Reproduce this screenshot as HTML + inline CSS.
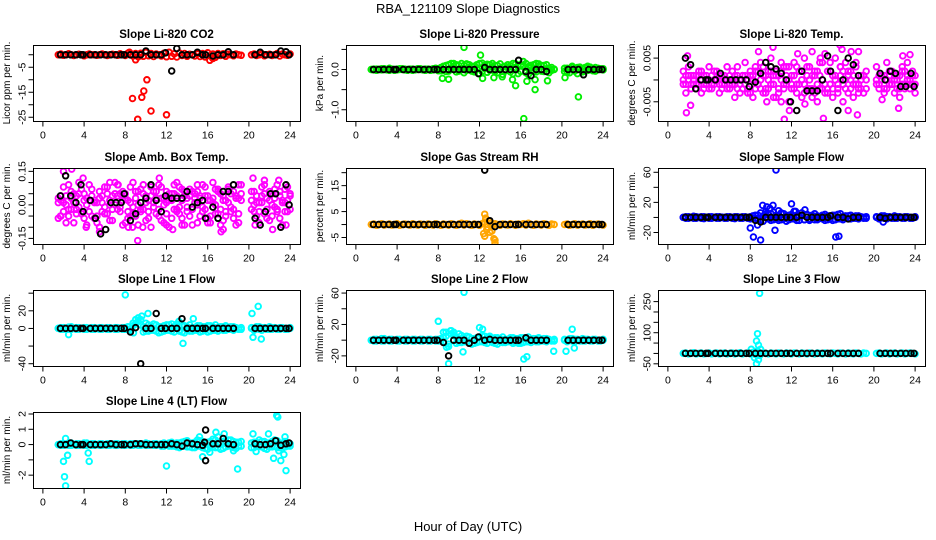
<!DOCTYPE html>
<html><head><meta charset="utf-8"><title>RBA_121109 Slope Diagnostics</title>
<style>
html,body{margin:0;padding:0;background:#fff;}
svg{display:block;font-family:"Liberation Sans",Arial,sans-serif;}
</style></head>
<body>
<svg id="chart" width="936" height="540" viewBox="0 0 936 540" xmlns="http://www.w3.org/2000/svg">
<rect width="936" height="540" fill="#fff"/>
<text x="468" y="13" text-anchor="middle" font-size="13">RBA_121109  Slope Diagnostics</text>
<text x="468" y="531" text-anchor="middle" font-size="13">Hour of Day (UTC)</text>
</svg>
<script>
// ---------- shared time categories ----------
const T = [1.5,1.75,2,2.25,2.5,2.75,3,3.25,3.5,3.75,4,4.25,4.5,4.75,5,5.25,5.5,5.75,6,6.25,6.5,6.75,7,7.25,7.5,7.75,8,8.25,8.5,8.75,9,9.25,9.5,9.75,10,10.25,10.5,10.75,11,11.25,11.5,11.75,12,12.25,12.5,12.75,13,13.25,13.5,13.75,14,14.25,14.5,14.75,15,15.25,15.5,15.75,16,16.25,16.5,16.75,17,17.25,17.5,17.75,18,18.25,18.5,18.75,19,19.25,20.25,20.5,20.75,21,21.25,21.5,21.75,22,22.25,22.5,22.75,23,23.25,23.5,23.75,24];
const TB = [1.7,2.2,2.7,3.2,3.7,3.9,4.6,5.1,5.6,6.1,6.6,7.1,7.6,7.9,8.5,9.0,9.5,10.0,10.5,11.0,11.5,11.9,12.5,13.0,13.5,14.0,14.5,15.0,15.5,15.8,16.5,17.0,17.5,18.0,18.5,20.6,21.1,21.6,22.1,22.6,23.1,23.6,23.9];
const xTicks = [0,4,8,12,16,20,24];

// ---------- Panel 1: Li-820 CO2 ----------
const co2Band = [0,0.3,-0.2,0,0.4,0,-0.3,0, 0.2,0,-0.4,0,0.3,0,0,-0.2, 0,0.3,0,-0.3,0,0.2,0,-0.2, 0.4,0,-0.3,0.6,0,-0.5,0.5,-0.8, 0.6,-0.6,1,-0.4,0.5,-0.7,0.3,0, -0.5,0.6,-0.8,1,-0.6,0.4,-0.9,0.7, -0.3,0.5,-0.6,0.2,0,-0.5,0.3,-0.7, 0.5,-0.9,0.8,-0.4,0.3,-1,0.5,-0.3, 0.4,-0.6,0.2,0,-0.4,0.3,0,-0.2, 0,0.3,-0.3,0,0.4,-0.4,0,0.2, -0.3,0,0.5,-0.5,0.3,0,-0.2,0.3];
const co2OutT = [8.7,9.2,9.6,9.8,10.1,10.5,12.0,9.0,16.2,16.5,8.4,10.0];
const co2OutV = [-17.5,-25.8,-17,-14.5,-10,-22.5,-24,-2,-2.2,-1.5,1,1];
const co2Black = [0,0,0,0,0,0,0,0,0,0,0,0,0,0,0,0,0,1.5,0,0,0,0.8,-6.5,2.5,0,0,0,1,0,0,-0.5,0,0,1.2,0,0,1,0,0,0,1.5,1.2,0];

// ---------- Panel 2: Li-820 Pressure ----------
const presBandA = [0,0.01,-0.02,0,0.02,0,-0.01,0.03, 0,-0.02,0.01,0,0.02,-0.01,0,0.01, -0.02,0,0.02,0,-0.01,0.01,0,-0.02, 0.02,0,-0.03,0.05,0,-0.05,0.12,0.02, 0.15,-0.06,0.1,0.02,-0.08,0.14,0.05,-0.04, 0.08,0.12,-0.1,0.16,0.03,-0.07,0.12,0.06, -0.05,0.1,0.02,-0.12,0.08,0.04,-0.06,0.15, 0.05,-0.1,0.12,0.2,-0.08,0.06,0.1,-0.05, 0.15,0.08,-0.04,0.1,0.02,-0.08,0.05,0, -0.05,0.03,-0.08,0.05,0,-0.1,0.06,0.02, -0.04,0.08,0,-0.03,0.05,0,0.02,-0.01];
const presBandB = [0,-0.01,0.01,0,-0.01,0.02,0,-0.02, 0.01,0,-0.01,0.02,0,0.01,-0.02,0, 0.01,-0.01,0,0.02,0,-0.02,0.01,0, -0.01,0.03,0.02,-0.03,0.08,0.1,-0.04,0.15, 0.08,0.12,-0.04,0.15,0.1,-0.02,0.12,0.08, -0.06,0.04,0.15,-0.05,0.1,0.13,-0.02,0.15, 0.1,-0.08,0.14,0.06,-0.03,0.12,0.09,-0.1, 0.14,0.08,-0.05,0.1,0.15,-0.12,0.04,0.12, -0.06,0.14,0.1,-0.05,0.12,0.03,-0.02,0.01, 0.03,-0.06,0.02,0.08,-0.04,0.05,0.03,-0.06, 0.05,-0.02,0.06,0.02,-0.04,0.03,0,0.02];
const presOutT = [10.5,12.1,8.4,9.0,12.3,13.4,14.2,15.2,15.5,16.3,16.6,17.4,17.4,18.6,20.3,21.6,16.9];
const presOutV = [0.55,0.36,-0.22,-0.24,-0.22,-0.2,-0.18,-0.25,-0.4,-1.22,-0.29,-0.5,-0.25,-0.28,-0.2,-0.68,0.1];
const presBlack = [0,0,0,0,0,0,0,0,0,0,0,0,0,0,0,0,0,0,0,0,0,-0.1,0.05,0,0,0,0,0,0,0.23,-0.05,-0.15,0,0,-0.05,0,0,0,-0.13,0,0,0,0];

// ---------- Panel 3: Li-820 Temp (units of 0.001) ----------
const tempBandA = [0,-1,1,-2,0,1,-1,0, -2,1,0,-1,2,0,-1,-2, 1,0,-1,0,1,-2,0,1, -1,0,-3,1,2,-1,0,1, -2,0,2,-1,1,-2,0,3, -1,0,-2,1,-1,2,0,-3, 1,0,-2,2,-1,1,0,-3, 2,-1,1,0,-2,3,-1,0, 2,-2,1,-1,-3,0,1,-2, 0,-1,1,-2,0,2,-1,0, -2,1,-1,2,0,-2,1,-1];
const tempBandB = [2,-3,3,-1,1,-2,2,-3, 1,-1,3,-2,0,2,-3,1, -1,3,-2,2,-1,3,-3,1, 4,-2,2,-4,3,-1,4,-3, 1,-2,5,-4,2,-3,4,-1, 3,-5,1,4,-3,2,-4,5, -2,3,-4,1,-5,4,-2,6, -3,2,-4,5,-1,3,-5,4, -3,2,-4,3,-2,1,-3,2, 3,-2,1,-3,4,-1,2,-3, 1,-4,3,-2,4,-1,2,-3];
const tempBandC = [-1,1,0,1,-1,-1,1,2, -1,0,-2,1,-1,0,1,-1, 0,-2,1,-1,0,1,-1,-2, 1,-3,1,0,-2,2,-2,3, -3,2,-1,1,-4,1,2,-2, 1,3,-1,-2,3,-1,2,-1, 3,-2,1,-3,2,-2,4,-1, -2,4,-2,1,-3,1,2,-2, 1,0,-1,4,-1,-2,1,0, -1,1,0,1,-2,1,-1,1, 0,-2,2,-1,1,0,-1,1];
const tempOutT = [1.8,2.2,8.8,10.2,11.3,15.1,16.7,18.4,17.5,11.8,12.6,14.0,17.8,18.5,22.4,23.5,22.8,13.3,9.6,6.5,1.9,16.9,14.8,11.0,20.8];
const tempOutV = [-7.5,-5.8,6.5,7.5,-9,-8.8,8,-8,-7,-7,6,6.5,6.5,6.5,-6.5,5.8,5.5,-5.5,-5,-4,5.5,7,5,-5,-4.5];
const tempBlack = [5,3.5,-2,0,0,0,0,1.5,0,0,0,0,0,-1.5,-0.5,1.5,4,3,2.5,1.5,0,-5,-7,2,-2.5,-2.5,-2.5,0,5.5,2,-7,0,5,3.5,1,1.5,0,2,1.5,-1.5,-1.5,1.5,-1.5];

// ---------- Panel 4: Amb. Box Temp (units of 0.01) ----------
const ambBandA = [3,-5,8,0,-2,6,-8,4, 10,-3,5,-9,2,7,-6,1, -10,4,8,-4,0,-7,5,9, -3,6,-8,2,-5,10,3,-9, 7,-2,4,-6,8,1,-4,9, -7,3,6,-10,2,5,-3,8, -6,4,-1,7,-9,3,6,-5, 9,-2,4,-8,1,7,-4,5, -7,2,8,-3,6,-9,3,5, -2,6,-5,1,8,-4,3,-7, 5,-1,9,-6,2,7,-3,4];
const ambBandB = [-6,4,1,-8,9,-2,5,-4, -1,7,-6,3,9,-5,2,-8, 6,-3,-1,8,-7,4,10,-2, 5,-9,3,-6,8,-1,-5,6, -3,9,-7,2,-10,6,3,-5, 8,-8,1,5,-6,9,-2,-4, 7,-9,3,-5,6,1,-8,4, -3,8,-6,2,10,-4,6,-9, 2,-5,7,-1,-6,4,-8,9, 6,-3,1,-8,4,9,-6,2, -5,7,-3,6,-9,1,8,-2];
const ambBandC = [1,2,-3,4,-5,3,1,-2, 5,-4,2,0,-3,4,1,-5, 3,1,-4,5,2,-2,0,4, -1,2,5,-3,1,-4,6,0, -2,5,1,-3,4,-1,6,-2, 3,0,-4,2,5,-2,4,-1, 2,6,-3,4,-2,5,0,3, -1,4,2,-5,3,0,7,-2, 4,-3,1,5,-2,3,-4,2, 2,0,4,-3,1,5,-2,6, 0,3,-2,4,1,-3,2,5];
const ambOutT = [1.7,2.0,2.8,3.9,6.5,7.3,8.3,8.7,9.2,9.7,11.3,12.0,12.6,13.5,15.0,17.3,17.5,19.0,20.4,20.6,21.5,22.3,22.9,23.6,5.5,4.2,13.0,16.0];
const ambOutV = [-5,15,16,12,10,9,-10,-10,-16,-10,12,-9,-11,-9,9,-12,-11,9,12,-9,11,-11,11,-9,-12,-10,10,-8];
const ambBlack = [4,13,4,1,9,-3,2,-6,-13,-11,1,1,1,5,-7,-4,1,3,9,2,-3,4,3,3,3,6,-1,1,2,-6,-1,-6,6,6,9,-6,-9,-3,5,5,-10,9,0];

// ---------- Panel 5: Gas Stream RH ----------
const rhBand = [0,0.2,-0.3,0,0.3,-0.2,0,0.2, -0.2,0,0.3,-0.3,0,0.2,0,-0.2, 0.3,0,-0.2,0.2,0,-0.3,0.2,0, -0.2,0.3,0,-0.3,0.2,0,-0.2,0.3, 0,-0.3,0.2,0.5,-0.2,0.3,0,-0.3, 0.2,0,-0.3,0.3,1,-1,0.5,-0.5, 0.3,0,-0.3,0.2,0,-0.2,0.3,0, -0.3,0.2,0,0.3,-0.2,0.5,0,-0.3, 0.2,0,-0.2,0.3,0,-0.3,0.2,0, 0,0.2,-0.3,0,0.3,-0.2,0,0.2, -0.2,0,0.3,-0.3,0,0.2,0,-0.2];
const rhOutT = [12.5,12.6,12.7,12.5,12.8,13.0,13.4,13.5,13.5,12.9,13.2,12.4,13.1];
const rhOutV = [4,2.5,-2,-4.5,-1,-3,-5.5,-7,-6,1.5,-2.5,-3.5,0.5];
const rhBlack = [0,0,0,0,0,0,0,0,0,0,0,0,0,0,0,0,0,0,0,0,0,0,21,1.5,-0.8,0,0,0,0,0,0,0,0,0,0,0,0,0,0,0,0,0,0];

// ---------- Panel 6: Sample Flow ----------
const sfBandA = [0,1,-1,0,1.5,-1,0,1, -1.5,0,1,-1,0,1,-1,0.5, 0,-1,1,0,-1.5,1,0,-1, 1,0,-2,2,-1,3,-3,2, 4,-2,5,-3,3,-4,6,-2, 2,-3,4,-2,3,-4,2,-3, 4,-2,3,-3,2,-1,3,-4, 2,-2,3,-3,4,-2,1,-1, 2,-2,1,-1,2,0,-1,1, 0,-2,2,-1,1,0,-1,2, -1,1,0,-1,1,0,-1,0];
const sfBandB = [0,-1,1,0,-1,1,0,-1, 1,0,-1,1,0,-1,1,0, -1,1,0,-1,1,0,-1,1, 0,-1,1,-1,3,-3,6,-5, 8,4,-4,7,-2,9,-3,5, -5,3,-2,8,-4,2,6,-3, 3,-4,2,5,-3,1,-2,4, -3,2,-4,3,-2,5,-3,2, -2,3,-1,2,-2,1,0,-1, 1,-1,0,2,-2,1,0,-1, 1,0,-1,1,0,-1,0,1];
const sfOutT = [10.5,12.0,9.2,9.6,9.9,10.2,12.4,13.3,8.0,8.3,8.7,9.0,10.4,16.3,16.6,11.0,9.5,20.9];
const sfOutV = [63,18,16,14,12,16,8,10,-14,-26,-10,-30,-17,-26,-25,5,5,-6];
const sfBlack = [0,0,0,0,0,0,0,0,0,0,0,0,0,0,-4,-6,0,0,0,0,0,0,0,3,0,0,0,0,0,2,0,0,-2,0,0,0,-1,0,0,0,0,0,0];

// ---------- Panel 7: Line 1 Flow ----------
const l1BandA = [0,1,-1,0,1.5,-1,0,1, -1,0,1,-1,0,1,-1,0, 1,-1,0,1,-1,0,1,-1, 0,1,-1,2,-2,3,5,8, 10,2,-3,4,-2,5,-3,2, -4,3,-2,4,-3,2,5,-3, 3,-5,2,-3,1,-2,3,-4, 2,-2,3,-3,2,-2,1,-1, 2,-2,1,-1,2,0,-1,1, 0,-2,2,-1,1,0,-1,2, -1,1,0,-1,1,0,-1,0];
const l1BandB = [0,-1,1,0,-1,2,0,-1, 1,0,-1,1,0,-1,1,0, -1,1,0,-1,1,0,-1,1, 0,-1,1,-1,-3,6,10,12, 4,-4,6,-3,3,-2,4,-5, 2,-3,4,-2,5,-4,3,-2, -4,3,-2,4,-3,1,-2,3, -3,2,-4,3,-2,4,-3,2, -2,3,-1,2,-2,1,0,-1, 1,-1,0,2,-2,1,0,-1, 1,0,-1,1,0,-1,0,1];
const l1OutT = [8.0,10.2,9.6,13.6,14.6,20.3,20.9,21.2,20.4,2.5,8.8,13.2];
const l1OutV = [38,17,14,-17,11,17,25,-12,-10,-7,-5,8];
const l1Black = [0,0,0,0,0,0,0,0,0,0,0,0,0,0,-4,1,-40,0,0,17,0,0,0,0,11,0,0,0,0,0,0,0,0,0,0,0,0,0,0,0,0,0,0];

// ---------- Panel 8: Line 2 Flow ----------
const l2BandA = [0,1,-1,0,2,-1,0,1, -1,0,1,-1,0,1,-1,0, 1,-1,0,1,-1,0,1,-1, 0,1,-1,2,-2,5,-5,8, 10,4,-3,6,-2,5,-3,2, -4,3,-2,6,-3,2,5,-3, 3,-5,2,-3,1,-2,3,-4, 2,-2,3,-3,2,-2,1,-1, 2,-2,1,-1,2,0,-1,1, 0,-2,2,-1,1,0,-1,2, -1,1,0,-1,1,0,-1,0];
const l2BandB = [0,-1,1,0,-1,2,0,-1, 1,0,-1,1,0,-1,1,0, -1,1,0,-1,1,0,-1,1, 0,-1,1,-1,3,10,-8,12, 6,-4,8,-3,3,-2,4,-5, 2,-3,4,-2,5,-4,3,-2, -4,3,-2,4,-3,1,-2,3, -3,2,-4,3,-2,4,-3,2, -2,3,-1,2,-2,1,0,-1, 1,-1,0,2,-2,1,0,-1, 1,0,-1,1,0,-1,0,1];
const l2OutT = [10.5,8.0,12.0,12.3,9.2,9.5,8.5,8.8,9.0,10.4,16.3,16.6,19.2,20.4,21.2,21.0,15.8];
const l2OutV = [61,24,16,14,12,9,10,-9,-30,-15,-24,-21,-14,-14,-10,14,-4];
const l2Black = [0,0,0,0,0,0,0,0,0,0,0,0,0,0,-3,-20,0,0,0,-4,0,4,0,1,0,0,0,0,0,0,3,0,0,0,0,0,0,0,0,0,0,0,0];

// ---------- Panel 9: Line 3 Flow ----------
const l3Band = [0,2,-2,0,3,-2,0,2, -2,0,2,-2,0,2,-2,0, 2,-2,0,2,-2,0,3,-2, 0,2,-2,5,-5,8,-3,2, 0,-2,2,0,-2,2,0,-2, 2,0,-2,2,0,-2,2,0, -2,2,0,-2,2,0,-2,2, 0,-2,2,0,-2,2,0,-2, 2,0,-2,2,0,-2,2,0, 0,2,-2,0,2,-2,0,2, -2,0,2,-2,0,2,0,-2];
const l3OutT = [8.9,8.7,8.6,8.8,9.0,8.1,8.4,8.6,8.8,8.5,8.9];
const l3OutV = [290,95,60,40,20,20,-20,-50,-30,10,-10];
const l3Black = [0,0,0,0,0,0,0,0,0,0,0,0,0,0,0,0,0,0,0,0,0,0,0,0,0,0,0,0,0,0,0,0,0,0,0,0,0,0,0,0,0,0,0];

// ---------- Panel 10: Line 4 (LT) Flow ----------
const l4BandA = [0,0.05,-0.05,0,0.1,-0.05,0,0.05, -0.05,0,0.1,-0.05,0,0.05,-0.05,0, 0.05,-0.05,0,0.05,-0.05,0,0.05,-0.05, 0,0.05,-0.05,0,0.05,-0.05,0,0.05, -0.05,0,0.1,-0.05,0,0.05,-0.05,0, 0.05,-0.1,0,0.1,-0.1,0.05,-0.15,0.1, -0.1,0.2,-0.15,0.1,-0.2,0.15,-0.1,0.25, -0.2,0.1,-0.3,0.2,-0.15,0.3,-0.2,0.1, -0.25,0.2,-0.1,0.3,-0.2,0.15,-0.1,0.2, 0.1,-0.2,0.15,-0.1,0.2,-0.25,0.1,-0.15, 0.2,-0.1,0.25,-0.2,0.1,-0.15,0.05,-0.1];
const l4BandB = [0,-0.05,0.05,0,-0.05,0.1,0,-0.05, 0.05,0,-0.05,0.1,0,-0.05,0.05,0, -0.05,0.05,0,-0.05,0.05,0,-0.05,0.05, 0,-0.05,0.05,0,-0.05,0.05,0,-0.05, 0.05,0,-0.05,0.05,0,-0.05,0.05,0, -0.1,0.1,-0.05,-0.1,0.15,-0.1,0.1,-0.2, 0.15,-0.1,0.25,-0.15,0.1,-0.2,0.3,-0.1, 0.2,-0.25,0.15,-0.1,0.35,-0.2,0.1,-0.3, 0.2,-0.15,0.3,-0.1,0.2,-0.25,0.15,-0.1, -0.2,0.15,-0.1,0.3,-0.15,0.2,-0.3,0.1, -0.15,0.3,-0.2,0.1,-0.25,0.2,-0.1,0.05];
const l4OutT = [2.0,2.1,2.2,2.4,2.2,4.4,4.5,12.0,15.5,15.2,16.2,16.8,17.0,17.6,18.5,18.9,20.4,20.7,21.9,22.4,22.7,22.8,22.9,23.1,23.4,23.6,23.5];
const l4OutV = [-1.1,-2.1,-2.7,-0.7,0.4,-0.55,-1.1,-1.4,-0.8,0.5,-0.5,0.8,0.5,0.7,-0.4,-1.6,0.7,-0.45,0.7,-0.9,1.9,1.8,-0.4,-1.05,-0.65,-1.7,0.5];
const l4Black = [0,0,0.1,0,0,0,0,0,0,0,0.05,0,0,0,0,0.05,0.05,0,0,0,0,0,0.05,0,-0.1,0.1,0.05,0,-0.05,0.95,0.05,0.05,0.4,0.05,0,0.05,0,0,0.05,0.25,-0.05,0.05,0.1];
const l4BlackOutT = [15.8,15.7];
const l4BlackOutV = [-1.05,0.15];

// ---------- axis ticks ----------
const co2Ticks=[0,-5,-10,-15,-20,-25], co2TickLabels=["","-5","","-15","","-25"];
const presTicks=[0.5,0,-0.5,-1], presTickLabels=["","0.0","","-1.0"];
const tempTicks=[5,0,-5], tempTickLabels=["0.005","","-0.005"];
const ambTicks=[15,10,5,0,-5,-10,-15], ambTickLabels=["0.15","","","0.00","","","-0.15"];
const rhTicks=[20,15,10,5,0,-5], rhTickLabels=["","15","","5","","-5"];
const sfTicks=[60,40,20,0,-20], sfTickLabels=["60","","20","","-20"];
const l1Ticks=[40,20,0,-20,-40], l1TickLabels=["","20","0","","-40"];
const l2Ticks=[60,40,20,0,-20], l2TickLabels=["60","","20","","-20"];
const l3Ticks=[250,200,150,100,50,0,-50], l3TickLabels=["250","","","100","","","-50"];
const l4Ticks=[2,1,0,-1,-2], l4TickLabels=["2","1","0","","-2"];

const cols=[33,346,658], rows=[45,168,290,412], BW=267, BH=76, XMIN=-0.96, XMAX=24.96;

const panels=[
 {id:"co2",title:"Slope Li-820 CO2",ytitle:"Licor ppm per min.",c:0,r:0,top:3.9,bot:-26.5,ticks:co2Ticks,labels:co2TickLabels,color:"#ff0000",
  bands:[co2Band],outT:co2OutT,outV:co2OutV,black:co2Black},
 {id:"pressure",title:"Slope Li-820 Pressure",ytitle:"kPa per min.",c:1,r:0,top:0.61,bot:-1.28,ticks:presTicks,labels:presTickLabels,color:"#00ee00",
  bands:[presBandA,presBandB],outT:presOutT,outV:presOutV,black:presBlack},
 {id:"temp",title:"Slope Li-820 Temp.",ytitle:"degrees C per min.",c:2,r:0,top:8.0,bot:-9.4,ticks:tempTicks,labels:tempTickLabels,color:"#ff00ff",
  bands:[tempBandA,tempBandB,tempBandC],outT:tempOutT,outV:tempOutV,black:tempBlack},
 {id:"amb-box-temp",title:"Slope Amb. Box Temp.",ytitle:"degrees C per min.",c:0,r:1,top:16.5,bot:-17.5,ticks:ambTicks,labels:ambTickLabels,color:"#ff00ff",
  bands:[ambBandA,ambBandB,ambBandC],outT:ambOutT,outV:ambOutV,black:ambBlack},
 {id:"gas-rh",title:"Slope Gas Stream RH",ytitle:"percent per min.",c:1,r:1,top:21.8,bot:-7.5,ticks:rhTicks,labels:rhTickLabels,color:"#ffa500",
  bands:[rhBand],outT:rhOutT,outV:rhOutV,black:rhBlack},
 {id:"sample-flow",title:"Slope Sample Flow",ytitle:"ml/min per min.",c:2,r:1,top:65.7,bot:-35.3,ticks:sfTicks,labels:sfTickLabels,color:"#0000ff",
  bands:[sfBandA,sfBandB],outT:sfOutT,outV:sfOutV,black:sfBlack},
 {id:"line1-flow",title:"Slope Line 1 Flow",ytitle:"ml/min per min.",c:0,r:2,top:43.6,bot:-42.6,ticks:l1Ticks,labels:l1TickLabels,color:"#00ffff",
  bands:[l1BandA,l1BandB],outT:l1OutT,outV:l1OutV,black:l1Black},
 {id:"line2-flow",title:"Slope Line 2 Flow",ytitle:"ml/min per min.",c:1,r:2,top:63.9,bot:-32.9,ticks:l2Ticks,labels:l2TickLabels,color:"#00ffff",
  bands:[l2BandA,l2BandB],outT:l2OutT,outV:l2OutV,black:l2Black},
 {id:"line3-flow",title:"Slope Line 3 Flow",ytitle:"ml/min per min.",c:2,r:2,top:306,bot:-60.6,ticks:l3Ticks,labels:l3TickLabels,color:"#00ffff",
  bands:[l3Band],outT:l3OutT,outV:l3OutV,black:l3Black},
 {id:"line4-flow",title:"Slope Line 4 (LT) Flow",ytitle:"ml/min per min.",c:0,r:3,top:2.13,bot:-2.84,ticks:l4Ticks,labels:l4TickLabels,color:"#00ffff",
  bands:[l4BandA,l4BandB],outT:l4OutT,outV:l4OutV,black:l4Black,bOutT:l4BlackOutT,bOutV:l4BlackOutV}
];

const NS="http://www.w3.org/2000/svg";
const svg=document.getElementById("chart");
function mk(tag,attrs,parent){const e=document.createElementNS(NS,tag);for(const k in attrs)e.setAttribute(k,attrs[k]);parent.appendChild(e);return e;}

panels.forEach(p=>{
  const L=cols[p.c], Tp=rows[p.r];
  const sx=t=>L+(t-XMIN)/(XMAX-XMIN)*BW;
  const sy=v=>Tp+(p.top-v)/(p.top-p.bot)*BH;
  const g=mk("g",{},svg);
  
  
  const ttl=mk("text",{x:L+BW/2,y:Tp-7,"text-anchor":"middle","font-size":"11.5","font-weight":"bold"},g);
  ttl.textContent=p.title;
  
  
  const cp=mk("clipPath",{id:"clip-"+p.id},g);
  mk("rect",{x:L,y:Tp,width:BW,height:BH},cp);
  const marks=mk("g",{"clip-path":"url(#clip-"+p.id+")"},g);
  
  
  function dot(t,v,col,nm){
    const c=mk("circle",{cx:sx(t).toFixed(1),cy:sy(v).toFixed(1),r:2.8,fill:"none",stroke:col,"stroke-width":1.9},marks);
    
    
  }
  p.bands.forEach(b=>{const n=Math.min(b.length,T.length);for(let i=0;i<n;i++)dot(T[i],b[i],p.color,'colored-point');});
  for(let i=0;i<Math.min(p.outT.length,p.outV.length);i++)dot(p.outT[i],p.outV[i],p.color,'colored-outlier');
  for(let i=0;i<Math.min(p.black.length,TB.length);i++)dot(TB[i],p.black[i],"#000",'black-point');
  if(p.bOutT)for(let i=0;i<p.bOutT.length;i++)dot(p.bOutT[i],p.bOutV[i],"#000",'black-outlier');
  const box=mk("rect",{x:L+0.5,y:Tp+0.5,width:BW,height:BH,fill:"none",stroke:"#000","stroke-width":1},g);
  
  
  const xa=mk("g",{},g);
  
  
  const yb=Tp+BH+0.5;
  mk("line",{x1:sx(xTicks[0]),x2:sx(xTicks[xTicks.length-1]),y1:yb,y2:yb,stroke:"#000"},xa);
  xTicks.forEach(t=>{
    mk("line",{x1:sx(t),x2:sx(t),y1:yb,y2:yb+5,stroke:"#000"},xa);
    const tx=mk("text",{x:sx(t),y:yb+17,"text-anchor":"middle","font-size":"10.5"},xa);
    tx.textContent=String(t);
    
    
  });
  const ya=mk("g",{},g);
  
  
  const xl=L+0.5;
  mk("line",{x1:xl,x2:xl,y1:sy(p.ticks[0]),y2:sy(p.ticks[p.ticks.length-1]),stroke:"#000"},ya);
  p.ticks.forEach((v,i)=>{
    const y=sy(v);
    mk("line",{x1:xl-5,x2:xl,y1:y,y2:y,stroke:"#000"},ya);
    if(p.labels[i]){
      const tx=mk("text",{x:0,y:0,"text-anchor":"middle","font-size":"10.5",transform:"translate("+(xl-8)+","+y.toFixed(1)+") rotate(-90)"},ya);
      tx.textContent=p.labels[i];
      
      
    }
  });
  const yt=mk("text",{x:0,y:0,"text-anchor":"middle","font-size":"10",transform:"translate("+(L-23)+","+(Tp+BH/2)+") rotate(-90)"},g);
  yt.textContent=p.ytitle;
  
  
});
</script>
</body></html>
